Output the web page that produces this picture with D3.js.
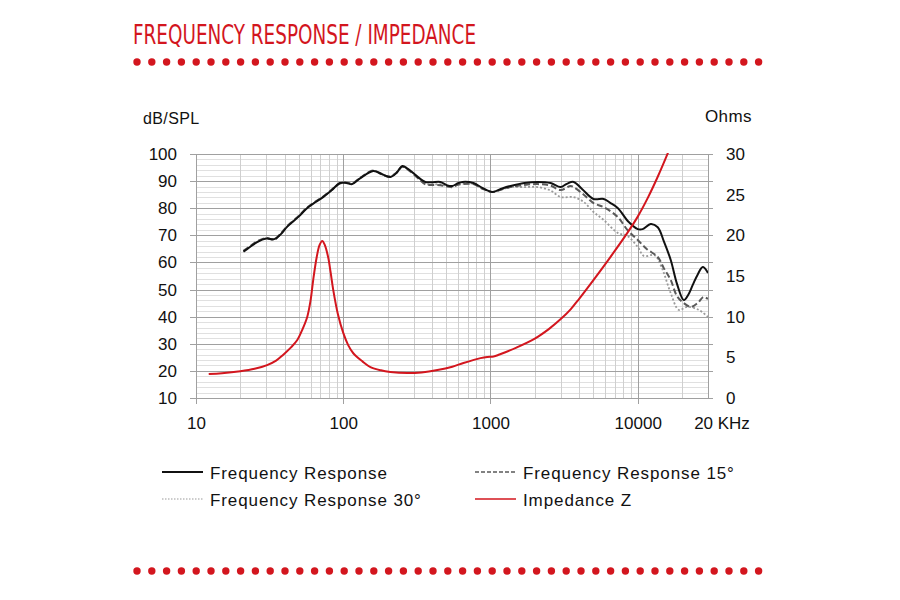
<!DOCTYPE html>
<html>
<head>
<meta charset="utf-8">
<script src="https://cdn.jsdelivr.net/npm/d3@7/dist/d3.min.js"></script>
<style>
  html, body { margin: 0; padding: 0; background: #fff; }
  svg { display: block; font-family: "Liberation Sans", Arial, sans-serif; }
</style>
</head>
<body>
<svg id="chart" width="900" height="600"></svg>
<script>
// ---------- DATA ----------
const titleText = "FREQUENCY RESPONSE / IMPEDANCE";
const leftAxisLabel = "dB/SPL";
const rightAxisLabel = "Ohms";
const dbTicks = [10, 20, 30, 40, 50, 60, 70, 80, 90, 100];
const ohmTicks = [0, 5, 10, 15, 20, 25, 30];
const freqTicks = [10, 100, 1000, 10000];
const freqEndLabel = "20 KHz";

// Frequency Response (on-axis)
const frFreq = [21, 23, 26, 30, 34, 37, 42, 50, 57, 65, 73, 83, 95, 105, 115, 130, 160, 185, 209, 230, 252, 275, 299, 330, 361, 400, 457, 510, 551, 600, 645, 766, 880, 1032, 1200, 1368, 1700, 2089, 2560, 2993, 3300, 3670, 4200, 5010, 5870, 6500, 7310, 8690, 10000, 10800, 12250, 13670, 15000, 16750, 18500, 20550, 22000, 23640, 25500, 27650, 30000];
const frDb   = [64, 65.5, 67.5, 68.8, 68.6, 70, 73.4, 77, 80.1, 82.3, 84.1, 86.5, 89.3, 89.3, 88.9, 91, 93.7, 92.5, 91.5, 93, 95.6, 94.5, 93, 91, 89.7, 89.6, 89.7, 88.4, 88.2, 89.2, 89.7, 89.3, 87.5, 86, 87.3, 88.2, 89.3, 89.7, 89.3, 87.8, 89, 89.7, 87, 83.4, 83.4, 82, 80.1, 74.9, 72.3, 72.3, 74.2, 73, 68, 60.9, 52, 46.1, 48, 51.7, 55.5, 58.3, 56.1];

// Frequency Response 15°
const fr15Freq = [21, 23, 26, 30, 34, 37, 42, 50, 57, 65, 73, 83, 95, 105, 115, 130, 160, 185, 209, 230, 252, 275, 299, 330, 361, 400, 457, 510, 551, 600, 645, 766, 880, 1032, 1200, 1368, 1700, 2089, 2560, 2993, 3500, 3670, 4300, 5010, 5870, 7310, 8500, 10000, 11500, 13670, 15000, 16750, 18500, 20550, 23000, 25500, 28000, 30000];
const fr15Db   = [64.3, 65.8, 67.8, 69, 68.4, 70.2, 73.6, 77.2, 80.3, 82.5, 84.3, 86.7, 89.1, 89.5, 89.1, 91.2, 93.9, 92.3, 91.7, 93.2, 95.3, 94.2, 92.6, 90.5, 88.8, 88.6, 88.5, 88, 87.8, 88.6, 88.9, 88.9, 87.2, 86, 87, 87.8, 88.6, 88.9, 88.3, 86.7, 88.2, 87.8, 85, 81.9, 80.4, 76.8, 72, 68.3, 65, 62, 58, 53.5, 47.5, 45, 43.6, 45, 47.3, 46.5];

// Frequency Response 30°
const fr30Freq = [21, 23, 26, 30, 34, 37, 42, 50, 57, 65, 73, 83, 95, 105, 115, 130, 160, 185, 209, 230, 252, 275, 299, 330, 361, 400, 457, 510, 551, 600, 645, 766, 880, 1032, 1200, 1368, 1700, 2089, 2560, 3000, 3670, 4300, 5010, 5870, 7310, 8500, 10000, 11000, 13000, 14500, 16750, 19000, 21700, 26000, 30000];
const fr30Db   = [64.1, 65.6, 67.6, 68.9, 68.5, 70.1, 73.5, 77.1, 80.2, 82.4, 84.2, 86.6, 89.2, 89.4, 89, 91.1, 93.8, 92.4, 91.6, 93.1, 95.4, 94.3, 92.8, 90.7, 89, 88.8, 88.8, 88.2, 88, 88.8, 89.1, 89, 87.3, 86, 87, 87.8, 87.8, 87.8, 86.5, 84.1, 84.1, 82.3, 78.6, 75.7, 70.9, 69.8, 65.7, 62.4, 62.7, 58.3, 48.7, 42.5, 43.6, 42.5, 39.9];

// Impedance Z (Ohms)
const zFreq = [12.2, 15, 20, 25, 30.4, 35, 39, 44, 48.6, 53, 57, 60, 62.5, 66, 69, 72, 75, 79, 82, 85.5, 92, 100, 108, 117, 135, 153, 180, 209, 272, 340, 436, 550, 655, 855, 950, 1050, 1150, 1500, 2000, 2500, 3000, 3500, 4000, 5000, 6500, 8500, 10000, 11700, 13670, 16000, 17000];
const zOhm  = [2.95, 3.05, 3.3, 3.6, 4.05, 4.6, 5.3, 6.2, 7.1, 8.5, 10, 12, 14.5, 17.3, 18.8, 19.3, 18.8, 17.3, 15.5, 13.3, 10.3, 8, 6.5, 5.5, 4.5, 3.8, 3.4, 3.2, 3.07, 3.15, 3.44, 3.85, 4.3, 4.9, 5.05, 5.1, 5.35, 6.2, 7.3, 8.5, 9.7, 10.9, 12.2, 14.5, 17.3, 20.3, 22.3, 24.6, 27.2, 30.1, 31.3];

const legendLabels = ["Frequency Response", "Frequency Response 15°", "Frequency Response 30°", "Impedance Z"];

// ---------- LAYOUT ----------
const svg = d3.select("#chart");
const red = "#d3161e";
const L = 196, R = 708, T = 154, B = 398;

const x = d3.scaleLog().domain([10, 30000]).range([L, R]);
const yL = d3.scaleLinear().domain([10, 100]).range([B, T]);
const yR = d3.scaleLinear().domain([0, 30]).range([B, T]);

// Title
svg.append("text")
  .attr("x", 133).attr("y", 44)
  .attr("fill", red)
  .attr("font-family", "'Liberation Sans Narrow', 'DejaVu Sans Condensed', sans-serif")
  .attr("font-size", 26)
  .attr("textLength", 343)
  .attr("lengthAdjust", "spacingAndGlyphs")
  .text(titleText);

// Dotted separators
const dotIdx = d3.range(43);
[62, 571].forEach(cy => {
  svg.append("g").selectAll("circle").data(dotIdx).join("circle")
    .attr("cx", i => 137 + i * 14.8)
    .attr("cy", cy)
    .attr("r", 3.7)
    .attr("fill", red);
});

// Grid
const grid = svg.append("g");
const minorDb = d3.range(10, 101, 2).filter(d => d % 10 !== 0);
grid.selectAll(".hmin").data(minorDb).join("line")
  .attr("x1", L).attr("x2", R)
  .attr("y1", d => Math.round(yL(d)) + 0.5).attr("y2", d => Math.round(yL(d)) + 0.5)
  .attr("stroke", "#e0e0e0").attr("stroke-width", 1);

const minorF = [];
[10, 100, 1000, 10000].forEach(dec => {
  for (let k = 2; k <= 9; k++) { const f = dec * k; if (f <= 20000) minorF.push(f); }
});
grid.selectAll(".vmin").data(minorF).join("line")
  .attr("x1", d => Math.round(x(d)) + 0.5).attr("x2", d => Math.round(x(d)) + 0.5)
  .attr("y1", T).attr("y2", B)
  .attr("stroke", "#cfcfcf").attr("stroke-width", 1);

grid.selectAll(".hmaj").data(dbTicks).join("line")
  .attr("x1", L - 6).attr("x2", R + 5)
  .attr("y1", d => Math.round(yL(d)) + 0.5).attr("y2", d => Math.round(yL(d)) + 0.5)
  .attr("stroke", "#a0a0a0").attr("stroke-width", 1);

grid.selectAll(".vmaj").data(freqTicks).join("line")
  .attr("x1", d => Math.round(x(d)) + 0.5).attr("x2", d => Math.round(x(d)) + 0.5)
  .attr("y1", T).attr("y2", B + 6)
  .attr("stroke", "#a0a0a0").attr("stroke-width", 1);

grid.append("line")
  .attr("x1", Math.round(x(30000)) + 0.5).attr("x2", Math.round(x(30000)) + 0.5)
  .attr("y1", T).attr("y2", B)
  .attr("stroke", "#a0a0a0").attr("stroke-width", 1);

// Axes (labels only)
const fs = 17;
const axL = svg.append("g").attr("transform", `translate(${L},0)`)
  .call(d3.axisLeft(yL).tickValues(dbTicks).tickSize(0).tickPadding(19));
const axR = svg.append("g").attr("transform", `translate(${R},0)`)
  .call(d3.axisRight(yR).tickValues(ohmTicks).tickSize(0).tickPadding(18));
const axB = svg.append("g").attr("transform", `translate(0,${B})`)
  .call(d3.axisBottom(x).tickValues(freqTicks).tickFormat(d3.format("d")).tickSize(0).tickPadding(19));
[axL, axR, axB].forEach(a => {
  a.select(".domain").remove();
  a.selectAll("text").attr("font-size", fs).attr("fill", "#111")
    .attr("font-family", "'Liberation Sans', Arial, sans-serif");
});

svg.append("text").attr("x", 722).attr("y", 429).attr("text-anchor", "middle")
  .attr("font-size", fs).attr("fill", "#111").text(freqEndLabel);
svg.append("text").attr("x", 143).attr("y", 124)
  .attr("font-size", 16).attr("fill", "#111").attr("letter-spacing", 0.4).text(leftAxisLabel);
svg.append("text").attr("x", 705).attr("y", 122)
  .attr("font-size", 17).attr("fill", "#111").attr("letter-spacing", 0.4).text(rightAxisLabel);

// Clip
svg.append("clipPath").attr("id", "plotclip")
  .append("rect").attr("x", L).attr("y", T - 1).attr("width", R - L).attr("height", B - T + 1);

const plot = svg.append("g").attr("clip-path", "url(#plotclip)");
const lineDb = d3.line().x(d => x(d[0])).y(d => yL(d[1])).curve(d3.curveCatmullRom.alpha(0.5));
const lineZ = d3.line().x(d => x(d[0])).y(d => yR(d[1])).curve(d3.curveCatmullRom.alpha(0.5));

const series = [
  { f: fr30Freq, v: fr30Db, stroke: "#9a9a9a", dash: "2,2", width: 1.8, gen: lineDb },
  { f: fr15Freq, v: fr15Db, stroke: "#5a5a5a", dash: "6,3", width: 2, gen: lineDb },
  { f: frFreq, v: frDb, stroke: "#111", dash: null, width: 2, gen: lineDb },
  { f: zFreq, v: zOhm, stroke: red, dash: null, width: 2, gen: lineZ }
];
series.forEach(s => {
  plot.append("path")
    .datum(s.f.map((f, i) => [f, s.v[i]]))
    .attr("d", s.gen)
    .attr("fill", "none")
    .attr("stroke", s.stroke)
    .attr("stroke-width", s.width)
    .attr("stroke-dasharray", s.dash)
    .attr("stroke-linejoin", "round");
});

// Legend
const legendStyle = [
  { stroke: "#111", dash: null, width: 2 },
  { stroke: "#5a5a5a", dash: "4,2", width: 1.5 },
  { stroke: "#9a9a9a", dash: "1.5,1.5", width: 1.2 },
  { stroke: red, dash: null, width: 1.5 }
];
const legPos = [[162, 472], [475, 472], [162, 499], [475, 499]];
const lg = svg.append("g");
legendLabels.forEach((lab, i) => {
  const [lx, ly] = legPos[i];
  lg.append("line").attr("x1", lx).attr("x2", lx + 41).attr("y1", ly).attr("y2", ly)
    .attr("stroke", legendStyle[i].stroke).attr("stroke-width", legendStyle[i].width)
    .attr("stroke-dasharray", legendStyle[i].dash);
  lg.append("text").attr("x", lx + 48).attr("y", ly + 7)
    .attr("font-size", 17).attr("fill", "#111").attr("letter-spacing", 0.9)
    .text(lab);
});
</script>
</body>
</html>
